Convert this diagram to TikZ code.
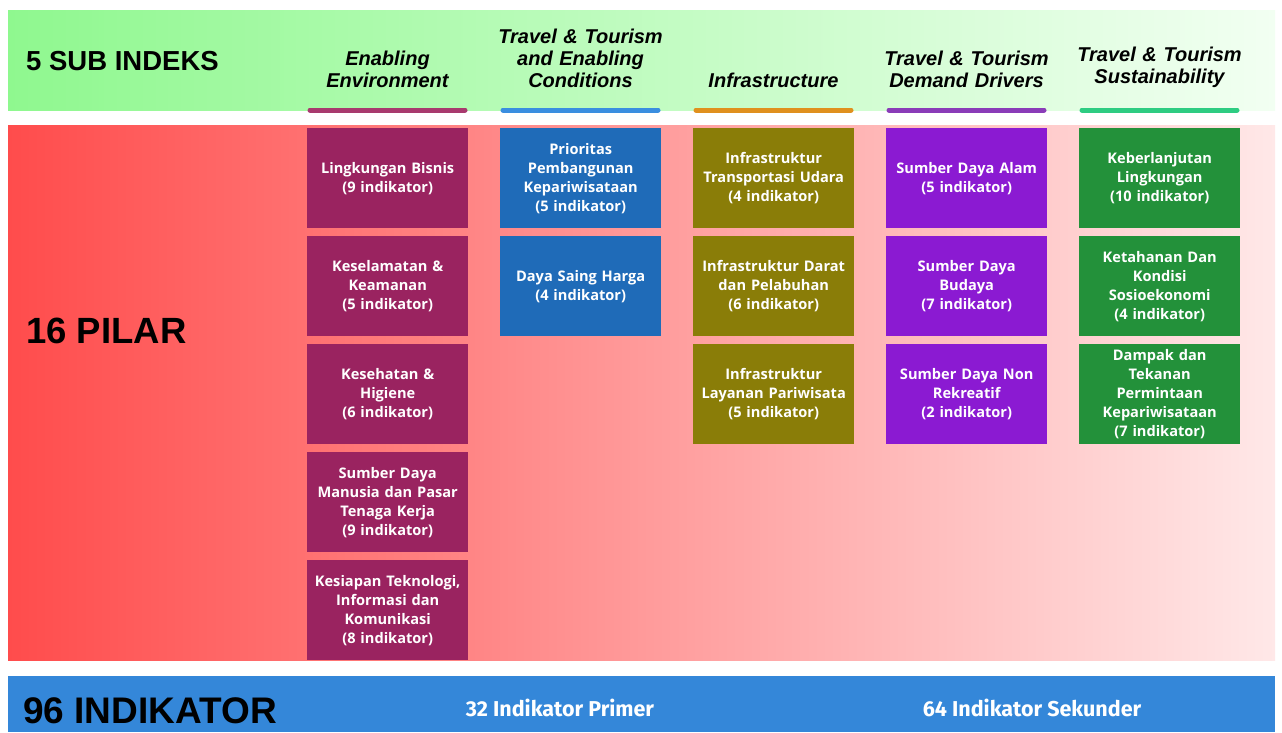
\documentclass[tikz,border=0pt]{standalone}
\usepackage{fontspec}
\setmainfont{Liberation Sans}
\newfontfamily\boxfont{Open Sans}
\newfontfamily\plexfont{Fira Sans}
\definecolor{cA}{HTML}{9A2360}
\definecolor{bA}{HTML}{A83A6E}
\definecolor{cB}{HTML}{1F6BB8}
\definecolor{bB}{HTML}{3A8EE0}
\definecolor{cC}{HTML}{8A7D08}
\definecolor{bC}{HTML}{E0901E}
\definecolor{cD}{HTML}{8B1AD2}
\definecolor{bD}{HTML}{8A3CB8}
\definecolor{cE}{HTML}{23913A}
\definecolor{bE}{HTML}{2ECC82}
\definecolor{bandblue}{HTML}{3487D9}
\tikzset{
  pil/.style={minimum width=161pt, minimum height=100pt, inner sep=0pt, anchor=north west,
    text=white, align=center, text width=158pt,
    font=\boxfont\bfseries\fontsize{14.6}{19}\selectfont},
  head/.style={anchor=south, align=center, text width=180pt, inner sep=0pt,
    font=\bfseries\itshape\fontsize{20}{22}\selectfont},
  big/.style={anchor=west, inner sep=0pt, font=\bfseries},
  bar/.style={line width=5pt, line cap=round},
  low/.style={text=white, inner sep=0pt, font=\plexfont\bfseries\fontsize{21.5}{25}\selectfont}
}
\begin{document}
\begin{tikzpicture}[x=1pt,y=-1pt]
\useasboundingbox (0,0) rectangle (1282,732);
\fill[white] (0,0) rectangle (1282,732);
% bands
\shade[left color={rgb,255:red,143;green,248;blue,143}, right color={rgb,255:red,242;green,255;blue,242}] (8,10) rectangle (1275,110);
\shade[left color={rgb,255:red,255;green,76;blue,76}, right color={rgb,255:red,255;green,232;blue,232}] (8,125) rectangle (1275,660);
\fill[bandblue] (8,676) rectangle (1275,732);
% band titles
\node[big, font=\bfseries\fontsize{27.5}{30}\selectfont] (t1) at (26,61) {5 SUB INDEKS};
\node[big, font=\bfseries\fontsize{36.5}{40}\selectfont] (t2) at (26,331) {16 PILAR};
\node[big, font=\bfseries\fontsize{37}{40}\selectfont] (t3) at (23,711) {96 INDIKATOR};
\node[low] (p1) at (560,708) {32 Indikator Primer};
\node[low] (p2) at (1032,708) {64 Indikator Sekunder};
% headers
\node[head] (hA) at (387.5,88) {Enabling\\Environment};
\node[head] (hB) at (580.5,88) {Travel \& Tourism\\and Enabling\\Conditions};
\node[head] (hC) at (773.5,88) {Infrastructure};
\node[head] (hD) at (966.5,88) {Travel \& Tourism\\Demand Drivers};
\node[head] (hE) at (1159.5,88) {Travel \& Tourism\\Sustainability};
\draw[bar, bA] (310,110) -- (465,110);
\draw[bar, bB] (503,110) -- (658,110);
\draw[bar, bC] (696,110) -- (851,110);
\draw[bar, bD] (889,110) -- (1044,110);
\draw[bar, bE] (1082,110) -- (1237,110);
% column A
\node[pil, fill=cA] (a1) at (307,128) {Lingkungan Bisnis\\(9 indikator)};
\node[pil, fill=cA] (a2) at (307,236) {Keselamatan \&\\Keamanan\\(5 indikator)};
\node[pil, fill=cA] (a3) at (307,344) {Kesehatan \&\\Higiene\\(6 indikator)};
\node[pil, fill=cA] (a4) at (307,452) {Sumber Daya\\Manusia dan Pasar\\Tenaga Kerja\\(9 indikator)};
\node[pil, fill=cA] (a5) at (307,560) {Kesiapan Teknologi,\\Informasi dan\\Komunikasi\\(8 indikator)};
% column B
\node[pil, fill=cB] (b1) at (500,128) {Prioritas\\Pembangunan\\Kepariwisataan\\(5 indikator)};
\node[pil, fill=cB] (b2) at (500,236) {Daya Saing Harga\\(4 indikator)};
% column C
\node[pil, fill=cC] (c1) at (693,128) {Infrastruktur\\Transportasi Udara\\(4 indikator)};
\node[pil, fill=cC] (c2) at (693,236) {Infrastruktur Darat\\dan Pelabuhan\\(6 indikator)};
\node[pil, fill=cC] (c3) at (693,344) {Infrastruktur\\Layanan Pariwisata\\(5 indikator)};
% column D
\node[pil, fill=cD] (d1) at (886,128) {Sumber Daya Alam\\(5 indikator)};
\node[pil, fill=cD] (d2) at (886,236) {Sumber Daya\\Budaya\\(7 indikator)};
\node[pil, fill=cD] (d3) at (886,344) {Sumber Daya Non\\Rekreatif\\(2 indikator)};
% column E
\node[pil, fill=cE] (e1) at (1079,128) {Keberlanjutan\\Lingkungan\\(10 indikator)};
\node[pil, fill=cE] (e2) at (1079,236) {Ketahanan Dan\\Kondisi\\Sosioekonomi\\(4 indikator)};
\node[pil, fill=cE] (e3) at (1079,344) {Dampak dan\\Tekanan\\Permintaan\\Kepariwisataan\\(7 indikator)};
\end{tikzpicture}
\end{document}
